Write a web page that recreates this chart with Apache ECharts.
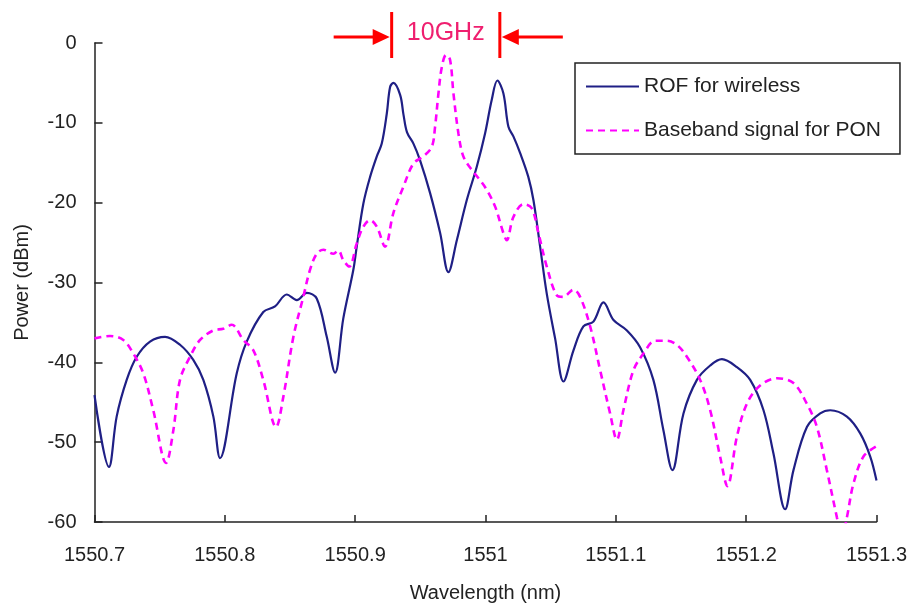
<!DOCTYPE html>
<html>
<head>
<meta charset="utf-8">
<script src="https://cdn.jsdelivr.net/npm/echarts@6/dist/echarts.min.js"></script>
<style>
html,body{margin:0;padding:0;background:#fff;}
#chart{width:916px;height:608px;}
</style>
</head>
<body>
<div id="chart"></div>
<script>
// ---- data ----
var rofWavelength = [1550.700, 1550.7111, 1550.7170, 1550.7247, 1550.7324, 1550.7426, 1550.7541, 1550.7656, 1550.7758, 1550.7835, 1550.7912, 1550.7963, 1550.8091, 1550.8168, 1550.8295, 1550.8385, 1550.8475, 1550.8552, 1550.8629, 1550.8705, 1550.8782, 1550.8846, 1550.8909, 1550.8986, 1550.9012, 1550.9063, 1550.9114, 1550.9166, 1550.9204, 1550.9243, 1550.9268, 1550.9293, 1550.9345, 1550.9371, 1550.9398, 1550.9447, 1550.9498, 1550.9575, 1550.9652, 1550.9715, 1550.9780, 1550.9856, 1550.9933, 1550.9997, 1551.0048, 1551.0091, 1551.0137, 1551.0176, 1551.0214, 1551.0266, 1551.0329, 1551.0368, 1551.0419, 1551.0470, 1551.0534, 1551.0598, 1551.0675, 1551.0751, 1551.0828, 1551.0905, 1551.0982, 1551.1085, 1551.1186, 1551.1288, 1551.1365, 1551.1434, 1551.1519, 1551.1622, 1551.1724, 1551.1814, 1551.1929, 1551.2031, 1551.2133, 1551.2209, 1551.2299, 1551.2363, 1551.2466, 1551.2568, 1551.2645, 1551.2773, 1551.2875, 1551.2952, 1551.3000];
var rofPower = [-44.1, -53.1, -46.8, -42.2, -39.3, -37.4, -36.8, -37.8, -39.7, -42.2, -46.8, -52.0, -41.4, -37.4, -33.7, -33.0, -31.5, -32.2, -31.3, -32.0, -36.8, -41.3, -34.5, -28.4, -25.5, -20.1, -16.8, -14.2, -12.6, -8.8, -5.5, -5.0, -6.5, -9.0, -11.2, -12.6, -14.7, -18.8, -23.8, -28.7, -24.7, -19.7, -15.5, -11.3, -7.1, -4.7, -6.3, -10.5, -11.7, -13.8, -16.8, -19.7, -25.5, -31.4, -37.0, -42.4, -38.5, -35.5, -34.9, -32.5, -34.7, -36.0, -38.1, -42.2, -48.5, -53.5, -46.4, -42.2, -40.4, -39.6, -40.6, -42.2, -46.0, -51.4, -58.4, -53.5, -48.1, -46.4, -46.0, -46.8, -48.9, -51.8, -54.8];

var ponWavelength = [1550.700, 1550.7119, 1550.7221, 1550.7298, 1550.7375, 1550.7451, 1550.7549, 1550.7605, 1550.7656, 1550.7733, 1550.7810, 1550.7912, 1550.7988, 1550.8053, 1550.8142, 1550.8219, 1550.8295, 1550.8393, 1550.8449, 1550.8526, 1550.8602, 1550.8654, 1550.8705, 1550.8756, 1550.8833, 1550.8871, 1550.8909, 1550.8955, 1550.9012, 1550.9063, 1550.9114, 1550.9166, 1550.9229, 1550.9293, 1550.9370, 1550.9447, 1550.9523, 1550.9588, 1550.9613, 1550.9639, 1550.9665, 1550.9698, 1550.9728, 1550.9754, 1550.9792, 1550.9830, 1550.9895, 1550.9959, 1551.0010, 1551.0074, 1551.0137, 1551.0163, 1551.0214, 1551.0291, 1551.0355, 1551.0406, 1551.0470, 1551.0547, 1551.0595, 1551.0675, 1551.0726, 1551.0803, 1551.0880, 1551.0956, 1551.1008, 1551.1058, 1551.1135, 1551.1212, 1551.1302, 1551.1391, 1551.1468, 1551.1545, 1551.1647, 1551.1724, 1551.1800, 1551.1856, 1551.1929, 1551.2005, 1551.2107, 1551.2236, 1551.2363, 1551.2466, 1551.2543, 1551.2619, 1551.2696, 1551.2734, 1551.2773, 1551.2823, 1551.2900, 1551.3000];
var ponPower = [-37.0, -36.7, -37.2, -38.9, -41.4, -46.0, -52.6, -48.5, -42.2, -39.3, -37.2, -36.0, -35.8, -35.3, -37.2, -38.5, -42.2, -48.1, -44.3, -36.8, -31.8, -28.4, -26.4, -25.9, -26.4, -26.0, -27.2, -28.0, -25.1, -23.0, -22.2, -23.0, -25.5, -21.3, -18.0, -15.1, -14.2, -13.0, -10.5, -6.3, -3.0, -1.5, -2.1, -6.3, -11.3, -14.2, -15.9, -17.2, -18.4, -20.5, -23.8, -24.7, -21.8, -20.2, -20.7, -23.8, -28.0, -31.6, -31.8, -30.9, -31.8, -35.5, -41.0, -46.4, -49.7, -46.0, -41.0, -38.9, -37.3, -37.3, -37.8, -39.3, -42.2, -46.0, -51.8, -55.5, -49.3, -45.2, -42.9, -42.0, -42.6, -45.2, -48.1, -53.5, -59.4, -62.0, -59.4, -55.2, -51.8, -50.5];

var seriesNames = ['ROF for wireless', 'Baseband signal for PON'];
var xTicks = [1550.7, 1550.8, 1550.9, 1551, 1551.1, 1551.2, 1551.3];
var yTicks = [0, -10, -20, -30, -40, -50, -60];
var markerWavelengths = [1550.928, 1551.011]; // 10 GHz spacing markers
var markerLabel = '10GHz';

function pairs(xs, ys) { return xs.map(function (x, i) { return [x, ys[i]]; }); }

var FONT = '"Liberation Sans", Arial, Helvetica, sans-serif';
var TXT = '#222';
var chart = echarts.init(document.getElementById('chart'), null, { renderer: 'canvas' });

var option = {
  animation: false,
  backgroundColor: '#fff',
  textStyle: { fontFamily: FONT, color: TXT },
  grid: { left: 94.5, right: 39.5, top: 43, bottom: 86, containLabel: false },
  legend: {
    orient: 'vertical',
    left: 575, top: 63,
    padding: [13, 19, 13, 10],
    itemWidth: 53, itemHeight: 20, itemGap: 23,
    borderColor: '#222', borderWidth: 1.5,
    backgroundColor: '#fff',
    itemStyle: { opacity: 0, borderWidth: 0 },
    textStyle: { fontSize: 21, color: TXT, fontFamily: FONT },
    data: seriesNames
  },
  xAxis: {
    type: 'value',
    min: xTicks[0], max: xTicks[xTicks.length - 1], interval: 0.1,
    name: 'Wavelength (nm)', nameLocation: 'middle', nameGap: 61,
    nameTextStyle: { fontSize: 20, color: TXT, fontFamily: FONT },
    axisLine: { show: true, onZero: false, lineStyle: { color: '#222', width: 1.5 } },
    axisTick: { show: true, inside: true, length: 7, lineStyle: { color: '#222', width: 1.5 } },
    axisLabel: { fontSize: 20, color: TXT, margin: 23, fontFamily: FONT,
      formatter: function (v) { return String(+(+v).toFixed(1)); } },
    splitLine: { show: false }
  },
  yAxis: {
    type: 'value',
    min: yTicks[yTicks.length - 1], max: yTicks[0], interval: 10,
    name: 'Power (dBm)', nameLocation: 'middle', nameGap: 62, nameRotate: 90,
    nameTextStyle: { fontSize: 20, color: TXT, fontFamily: FONT },
    axisLine: { show: true, onZero: false, lineStyle: { color: '#222', width: 1.5 } },
    axisTick: { show: true, inside: true, length: 8, lineStyle: { color: '#222', width: 1.5 } },
    axisLabel: { fontSize: 20, color: TXT, margin: 18, fontFamily: FONT },
    splitLine: { show: false }
  },
  series: [
    {
      name: seriesNames[0], type: 'line', data: pairs(rofWavelength, rofPower),
      showSymbol: false, symbol: 'none', smooth: 0.35, clip: true,
      itemStyle: { color: '#1f1f85' },
      lineStyle: { color: '#1f1f85', width: 2.2 }
    },
    {
      name: seriesNames[1], type: 'line', data: pairs(ponWavelength, ponPower),
      showSymbol: false, symbol: 'none', smooth: 0.35, clip: true,
      itemStyle: { color: '#ff00ff' },
      lineStyle: { color: '#ff00ff', width: 2.6, type: [7, 5] }
    }
  ]
};
chart.setOption(option);

// annotation tied to the x scale
var xL = chart.convertToPixel({ xAxisIndex: 0 }, markerWavelengths[0]);
var xR = chart.convertToPixel({ xAxisIndex: 0 }, markerWavelengths[1]);
var RED = '#ff0000';
var ay = 37;
chart.setOption({
  graphic: [
    { type: 'line', shape: { x1: xL, y1: 12, x2: xL, y2: 58 }, style: { stroke: RED, lineWidth: 3 } },
    { type: 'line', shape: { x1: xR, y1: 12, x2: xR, y2: 58 }, style: { stroke: RED, lineWidth: 3 } },
    { type: 'line', shape: { x1: xL - 58, y1: ay, x2: xL - 14, y2: ay }, style: { stroke: RED, lineWidth: 3 } },
    { type: 'polygon', shape: { points: [[xL - 19, ay - 8], [xL - 2, ay], [xL - 19, ay + 8]] }, style: { fill: RED } },
    { type: 'line', shape: { x1: xR + 14, y1: ay, x2: xR + 63, y2: ay }, style: { stroke: RED, lineWidth: 3 } },
    { type: 'polygon', shape: { points: [[xR + 19, ay - 8], [xR + 2, ay], [xR + 19, ay + 8]] }, style: { fill: RED } },
    { type: 'text', x: (xL + xR) / 2, y: 33,
      style: { text: markerLabel, fill: '#ef1f6f', font: '25px ' + FONT, textAlign: 'center', textVerticalAlign: 'middle' } }
  ]
});
</script>
</body>
</html>
